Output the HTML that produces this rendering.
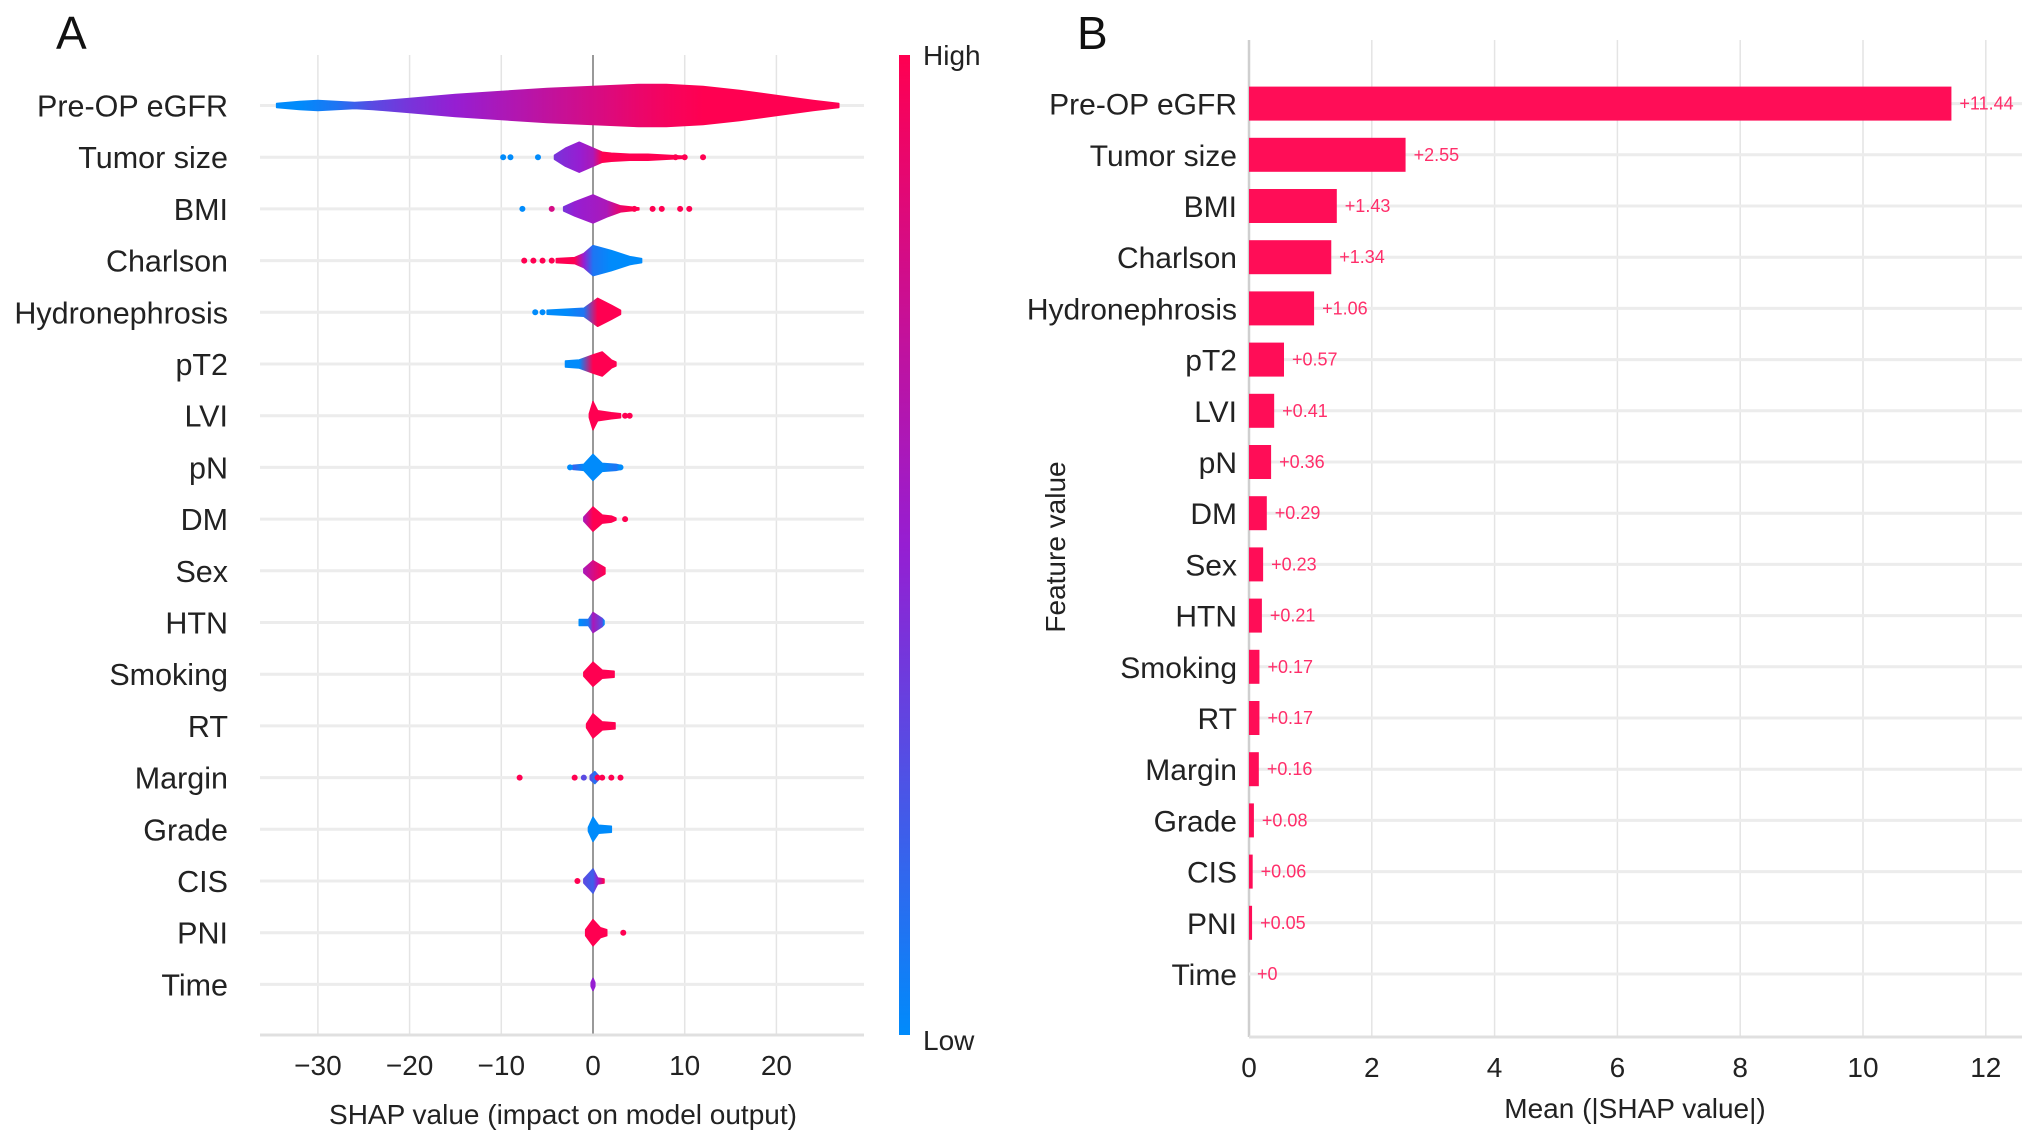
<!DOCTYPE html>
<html><head><meta charset="utf-8"><style>
html,body{margin:0;padding:0;background:#fff;}
svg{display:block;font-family:"Liberation Sans",Arial,sans-serif;}
</style></head><body>
<svg id="chart" width="2032" height="1139" viewBox="0 0 2032 1139" xmlns="http://www.w3.org/2000/svg">
<defs id="defs"></defs>
<g id="gA"></g>
<g id="gB"></g>
</svg>
<script>
const features = ["Pre-OP eGFR","Tumor size","BMI","Charlson","Hydronephrosis","pT2","LVI","pN","DM","Sex","HTN","Smoking","RT","Margin","Grade","CIS","PNI","Time"];
const meanAbs = [11.44,2.55,1.43,1.34,1.06,0.57,0.41,0.36,0.29,0.23,0.21,0.17,0.17,0.16,0.08,0.06,0.05,0];
const meanLabels = ["+11.44","+2.55","+1.43","+1.34","+1.06","+0.57","+0.41","+0.36","+0.29","+0.23","+0.21","+0.17","+0.17","+0.16","+0.08","+0.06","+0.05","+0"];
const ticksA = [-30,-20,-10,0,10,20];
const ticksALabels = ["\u221230","\u221220","\u221210","0","10","20"];
const ticksB = [0,2,4,6,8,10,12];
// violin profiles: SHAP x positions, half-width (density), feature colour (0 low .. 1 high)
const violinX = [
 [-34.5,-32,-30,-28,-26,-24,-20,-15,-10,-5,0,5,8,12,16,20,24,26.8],
 [-4.2,-3,-1.5,0,1,2,4,6,8,10],
 [-3.2,-2,0,1.5,3,4,5],
 [-4,-2,-1,0,2,4,5.3],
 [-5,-3,-1,0.5,2,3],
 [-3,-1.5,0,1,2,2.5],
 [-0.4,0,0.5,2,3],
 [-2.2,-1,0,1,2.5,3],
 [-1,0,1,2,2.5],
 [-1,0,1.3],
 [-1.5,-0.5,0,1,1.2],
 [-1,0,1,2.3],
 [-0.7,0,1,2.4],
 [-0.3,0.2,0.6],
 [-0.5,0,0.6,2],
 [-1,0,0.5,1.2],
 [-0.8,0,0.8,1.5],
 [-0.2,0,0.2]
];
const violinW = [
 [2,4,5,4,3,4,7,11,14,17,19,21,21,19,15,10,5,2],
 [2,9,15,9,5,4,3,3,2,1],
 [2,7,14,8,3,2,1],
 [2,3,7,15,10,4,2],
 [2,3,4,14,7,2],
 [3,4,9,12,4,2],
 [2,14,5,3,2],
 [2,3,13,4,3,2],
 [2,12,4,3,1],
 [2,10,3],
 [3,3,10,4,2],
 [2,12,4,3],
 [2,12,4,3],
 [2,6,2],
 [2,12,4,3],
 [2,12,3,2],
 [3,13,5,3],
 [2,6,2]
];
const violinC = [
 [0,0,0.05,0.1,0.2,0.3,0.4,0.5,0.6,0.7,0.8,0.9,0.95,1,1,1,1,1],
 [0.4,0.45,0.5,0.6,1,1,1,1,1,1],
 [0.4,0.5,0.55,0.6,0.9,1,1],
 [1,1,0.5,0.1,0,0,0],
 [0,0,0.1,1,1,1],
 [0,0,1,1,1,1],
 [1,1,1,1,1],
 [0.2,0,0,0,0.1,0],
 [0.6,1,1,1,1],
 [0.6,0.8,1],
 [0,0.1,0.6,0.3,0],
 [1,1,1,1],
 [1,1,1,1],
 [0.3,0.1,0.3],
 [0,0,0,0],
 [0.3,0.2,0.5,1],
 [1,1,1,1],
 [0.5,0.5,0.5]
];
const dotX = [[],[-9.8,-9,-6,9,10,12],[-7.7,-4.5,4.5,6.5,7.5,9.5,10.5],[-7.5,-6.5,-5.5,-4.5],[-6.3,-5.5],[],[3.5,4],[-2.5,3],[3.5],[],[],[],[],[-8,-2,-1,0.5,1,2,3],[],[-1.7],[3.3],[]];
const dotC = [[],[0,0,0,1,1,1],[0,0.8,1,1,1,1,1],[1,1,1,1],[0,0],[],[1,1],[0,0],[1],[],[],[],[],[1,1,0.3,1,1,1,1],[],[1],[1],[]];

const NS="http://www.w3.org/2000/svg";
function el(tag,attrs,parent,text){const e=document.createElementNS(NS,tag);for(const k in attrs)e.setAttribute(k,attrs[k]);if(text!==undefined)e.textContent=text;parent.appendChild(e);return e;}
function col(t){const a=[0,139,251],m=[150,30,210],b=[255,0,81];let c;if(t<0.5){const u=t/0.5;c=a.map((v,i)=>Math.round(v+(m[i]-v)*u));}else{const u=(t-0.5)/0.5;c=m.map((v,i)=>Math.round(v+(b[i]-v)*u));}return `rgb(${c[0]},${c[1]},${c[2]})`;}

const xA=v=>593+v*9.17, yA=i=>105.5+i*51.7;
const xB=v=>1249+v*61.4, yB=i=>103.6+i*51.2;
const gA=document.getElementById('gA'), gB=document.getElementById('gB'), defs=document.getElementById('defs');

// Panel A
let t=el('text',{x:56,y:49,'font-size':46,fill:'#111'},gA,'A');


ticksA.forEach((v,i)=>{
 let l=el('line',{x1:xA(v),x2:xA(v),y1:55,y2:1035,stroke:v===0?'#999':'#e4e4e4','stroke-width':v===0?2:1.5},gA);
 
 
 let tl=el('text',{x:xA(v),y:1075,'font-size':28,'text-anchor':'middle',fill:'#222'},gA,ticksALabels[i]);
 
 
});
let ax=el('line',{x1:260,x2:864,y1:1035,y2:1035,stroke:'#e0e0e0','stroke-width':3},gA);


let xt=el('text',{x:563,y:1124,'font-size':28,'text-anchor':'middle',fill:'#222'},gA,'SHAP value (impact on model output)');


features.forEach((f,i)=>{
 const y=yA(i);
 let rl=el('line',{x1:260,x2:864,y1:y,y2:y,stroke:'#ececec','stroke-width':3},gA);
 
 
 let lb=el('text',{x:228,y:y+11,'font-size':30.5,'text-anchor':'end',fill:'#222'},gA,f);
 
 
 const vx=violinX[i],vw=violinW[i],vc=violinC[i];
 const gid='vg'+i;
 const lg=el('linearGradient',{id:gid,gradientUnits:'userSpaceOnUse',x1:xA(vx[0]),x2:xA(vx[vx.length-1]),y1:0,y2:0},defs);
 const span=vx[vx.length-1]-vx[0]||1;
 vx.forEach((v,k)=>el('stop',{offset:(v-vx[0])/span,'stop-color':col(vc[k])},lg));
 let d='M'+vx.map((v,k)=>xA(v)+','+(y-vw[k])).join(' L');
 for(let k=vx.length-1;k>=0;k--)d+=' L'+xA(vx[k])+','+(y+vw[k]);
 d+='Z';
 let p=el('path',{d:d,fill:'url(#'+gid+')',stroke:'url(#'+gid+')','stroke-width':1.5,'stroke-linejoin':'round'},gA);
 
 
 dotX[i].forEach((v,k)=>{
  let c=el('circle',{cx:xA(v),cy:y,r:3,fill:col(dotC[i][k])},gA);
  
  
 });
});
// colorbar
const cg=el('linearGradient',{id:'cbar',x1:0,x2:0,y1:0,y2:1},defs);
el('stop',{offset:0,'stop-color':col(1)},cg);el('stop',{offset:0.5,'stop-color':col(0.5)},cg);el('stop',{offset:1,'stop-color':col(0)},cg);
let cb=el('rect',{x:899,y:55,width:11,height:980,fill:'url(#cbar)'},gA);


let hi=el('text',{x:923,y:65,'font-size':28,fill:'#222'},gA,'High');


let lo=el('text',{x:923,y:1050,'font-size':28,fill:'#222'},gA,'Low');



// Panel B
let tb=el('text',{x:1077,y:49,'font-size':46,fill:'#111'},gB,'B');


ticksB.forEach(v=>{
 let l=el('line',{x1:xB(v),x2:xB(v),y1:40,y2:1037,stroke:v===0?'#cfcfcf':'#e4e4e4','stroke-width':v===0?2.5:1.5},gB);
 
 
 let tl=el('text',{x:xB(v),y:1077,'font-size':28,'text-anchor':'middle',fill:'#222'},gB,String(v));
 
 
});
let axb=el('line',{x1:1249,x2:2022,y1:1037,y2:1037,stroke:'#e0e0e0','stroke-width':3},gB);


let xtb=el('text',{x:1635,y:1118,'font-size':28,'text-anchor':'middle',fill:'#222'},gB,'Mean (|SHAP value|)');


let yt=el('text',{x:0,y:0,'font-size':28,'text-anchor':'middle',fill:'#222',transform:'translate(1065,547) rotate(-90)'},gB,'Feature value');


features.forEach((f,i)=>{
 const y=yB(i);
 let rl=el('line',{x1:1249,x2:2022,y1:y,y2:y,stroke:'#ececec','stroke-width':3},gB);
 
 
 let lb=el('text',{x:1237,y:y+11,'font-size':30,'text-anchor':'end',fill:'#222'},gB,f);
 
 
 const w=xB(meanAbs[i])-xB(0);
 let r=el('rect',{x:xB(0),y:y-17,width:Math.max(w,0),height:34,fill:'#ff0d57'},gB);
 
 
 let vl=el('text',{x:xB(meanAbs[i])+8,y:y+6,'font-size':18,fill:'#ff2e6a'},gB,meanLabels[i]);
 
 
});
</script>
</body></html>
